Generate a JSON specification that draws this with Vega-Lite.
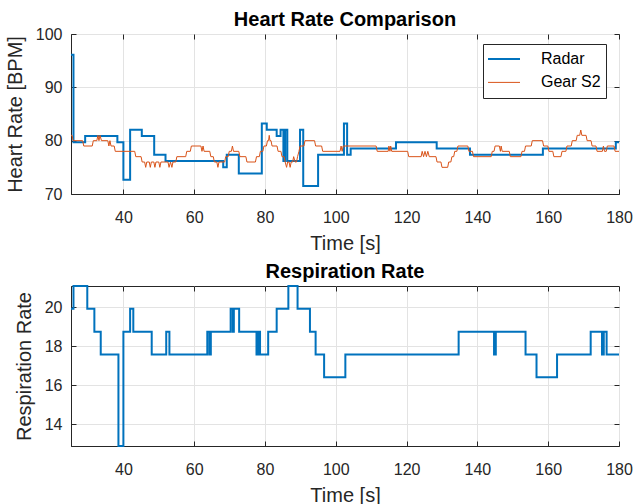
{
  "$schema": "https://vega.github.io/schema/vega-lite/v6.json",
  "padding": {"left": 4, "top": 9, "right": 5, "bottom": 5},
  "bounds": "flush",
  "spacing": 92,
  "datasets": {
    "radar_hr": [
      {"t": 25.2, "bpm": 96.09}, {"t": 25.9, "bpm": 79.69}, {"t": 29.2, "bpm": 80.86},
      {"t": 38.3, "bpm": 79.69}, {"t": 40.0, "bpm": 72.66}, {"t": 41.9, "bpm": 82.03},
      {"t": 45.2, "bpm": 80.86}, {"t": 48.7, "bpm": 77.34}, {"t": 51.9, "bpm": 76.17},
      {"t": 68.2, "bpm": 75.0}, {"t": 69.2, "bpm": 77.34}, {"t": 72.6, "bpm": 73.83},
      {"t": 79.1, "bpm": 83.2}, {"t": 80.5, "bpm": 82.03}, {"t": 83.3, "bpm": 80.86},
      {"t": 84.4, "bpm": 82.03}, {"t": 85.2, "bpm": 76.17}, {"t": 85.7, "bpm": 82.03},
      {"t": 86.3, "bpm": 76.17}, {"t": 89.9, "bpm": 82.03}, {"t": 90.8, "bpm": 71.48},
      {"t": 95.0, "bpm": 77.34}, {"t": 102.3, "bpm": 83.2}, {"t": 103.2, "bpm": 77.34},
      {"t": 104.2, "bpm": 78.52}, {"t": 117.0, "bpm": 79.69}, {"t": 128.5, "bpm": 78.52},
      {"t": 137.9, "bpm": 77.34}, {"t": 158.5, "bpm": 78.52}, {"t": 179.1, "bpm": 79.69},
      {"t": 180.0, "bpm": 79.69}
    ],
    "gear_hr": [
      {"t": 25.2, "bpm": 81}, {"t": 25.5, "bpm": 81}, {"t": 25.8, "bpm": 80}, {"t": 28.5, "bpm": 80},
      {"t": 28.8, "bpm": 79}, {"t": 31.2, "bpm": 79}, {"t": 31.5, "bpm": 80}, {"t": 32.5, "bpm": 80},
      {"t": 32.8, "bpm": 81}, {"t": 33.1, "bpm": 80}, {"t": 33.4, "bpm": 81}, {"t": 33.8, "bpm": 80},
      {"t": 35.6, "bpm": 80}, {"t": 35.9, "bpm": 79}, {"t": 36.2, "bpm": 80}, {"t": 36.5, "bpm": 79},
      {"t": 37.4, "bpm": 79}, {"t": 37.7, "bpm": 78}, {"t": 43.2, "bpm": 78}, {"t": 43.5, "bpm": 77},
      {"t": 45.0, "bpm": 77}, {"t": 45.3, "bpm": 76}, {"t": 46.0, "bpm": 76}, {"t": 46.3, "bpm": 75},
      {"t": 46.6, "bpm": 76}, {"t": 47.3, "bpm": 76}, {"t": 47.6, "bpm": 75}, {"t": 47.9, "bpm": 76},
      {"t": 48.6, "bpm": 76}, {"t": 48.9, "bpm": 75}, {"t": 49.2, "bpm": 76}, {"t": 50.0, "bpm": 76},
      {"t": 50.3, "bpm": 75}, {"t": 50.6, "bpm": 76}, {"t": 52.6, "bpm": 76}, {"t": 52.9, "bpm": 75},
      {"t": 53.3, "bpm": 76}, {"t": 53.7, "bpm": 75}, {"t": 54.0, "bpm": 76}, {"t": 54.8, "bpm": 76},
      {"t": 55.1, "bpm": 77}, {"t": 57.6, "bpm": 77}, {"t": 57.9, "bpm": 78}, {"t": 58.9, "bpm": 78},
      {"t": 59.2, "bpm": 79}, {"t": 61.9, "bpm": 79}, {"t": 62.2, "bpm": 78}, {"t": 62.5, "bpm": 79},
      {"t": 62.8, "bpm": 78}, {"t": 64.4, "bpm": 78}, {"t": 64.7, "bpm": 77}, {"t": 65.4, "bpm": 77},
      {"t": 65.7, "bpm": 76}, {"t": 66.4, "bpm": 76}, {"t": 66.7, "bpm": 75}, {"t": 67.0, "bpm": 76},
      {"t": 68.6, "bpm": 76}, {"t": 68.9, "bpm": 77}, {"t": 69.6, "bpm": 77}, {"t": 69.9, "bpm": 78},
      {"t": 70.5, "bpm": 78}, {"t": 70.8, "bpm": 79}, {"t": 71.1, "bpm": 78}, {"t": 72.6, "bpm": 78},
      {"t": 72.9, "bpm": 77}, {"t": 74.6, "bpm": 77}, {"t": 74.9, "bpm": 76}, {"t": 77.3, "bpm": 76},
      {"t": 77.6, "bpm": 77}, {"t": 78.4, "bpm": 77}, {"t": 78.7, "bpm": 78}, {"t": 79.4, "bpm": 78},
      {"t": 79.7, "bpm": 79}, {"t": 80.4, "bpm": 79}, {"t": 80.7, "bpm": 80}, {"t": 81.0, "bpm": 80},
      {"t": 81.2, "bpm": 81}, {"t": 81.4, "bpm": 80}, {"t": 81.7, "bpm": 80}, {"t": 82.0, "bpm": 79},
      {"t": 83.4, "bpm": 79}, {"t": 83.7, "bpm": 78}, {"t": 84.5, "bpm": 78}, {"t": 84.8, "bpm": 77},
      {"t": 85.4, "bpm": 77}, {"t": 85.7, "bpm": 76}, {"t": 86.1, "bpm": 75}, {"t": 86.4, "bpm": 76},
      {"t": 86.8, "bpm": 76}, {"t": 87.1, "bpm": 75}, {"t": 87.4, "bpm": 76}, {"t": 87.8, "bpm": 76},
      {"t": 88.1, "bpm": 77}, {"t": 88.5, "bpm": 76}, {"t": 88.9, "bpm": 76}, {"t": 89.2, "bpm": 77},
      {"t": 89.6, "bpm": 78}, {"t": 89.9, "bpm": 79}, {"t": 91.0, "bpm": 79}, {"t": 91.3, "bpm": 80},
      {"t": 94.0, "bpm": 80}, {"t": 94.3, "bpm": 79}, {"t": 96.0, "bpm": 79}, {"t": 96.3, "bpm": 78},
      {"t": 101.2, "bpm": 78}, {"t": 101.5, "bpm": 79}, {"t": 101.8, "bpm": 78}, {"t": 102.1, "bpm": 79},
      {"t": 111.4, "bpm": 79}, {"t": 111.7, "bpm": 78}, {"t": 114.8, "bpm": 78}, {"t": 115.0, "bpm": 79},
      {"t": 115.3, "bpm": 78}, {"t": 115.5, "bpm": 79}, {"t": 115.8, "bpm": 78}, {"t": 120.3, "bpm": 78},
      {"t": 120.6, "bpm": 77}, {"t": 124.1, "bpm": 77}, {"t": 124.4, "bpm": 78}, {"t": 124.8, "bpm": 77},
      {"t": 125.2, "bpm": 78}, {"t": 125.6, "bpm": 77}, {"t": 126.0, "bpm": 78}, {"t": 126.4, "bpm": 77},
      {"t": 128.3, "bpm": 77}, {"t": 128.6, "bpm": 76}, {"t": 129.7, "bpm": 76}, {"t": 130.0, "bpm": 75},
      {"t": 131.6, "bpm": 75}, {"t": 131.9, "bpm": 76}, {"t": 132.5, "bpm": 76}, {"t": 132.8, "bpm": 77},
      {"t": 133.3, "bpm": 77}, {"t": 133.6, "bpm": 78}, {"t": 134.2, "bpm": 78}, {"t": 134.5, "bpm": 79},
      {"t": 137.3, "bpm": 79}, {"t": 137.6, "bpm": 78}, {"t": 138.6, "bpm": 78}, {"t": 138.9, "bpm": 77},
      {"t": 143.9, "bpm": 77}, {"t": 144.2, "bpm": 78}, {"t": 144.7, "bpm": 78}, {"t": 145.0, "bpm": 79},
      {"t": 146.2, "bpm": 79}, {"t": 146.5, "bpm": 78}, {"t": 146.7, "bpm": 79}, {"t": 147.0, "bpm": 78},
      {"t": 149.0, "bpm": 78}, {"t": 149.3, "bpm": 77}, {"t": 152.3, "bpm": 77}, {"t": 152.6, "bpm": 78},
      {"t": 153.3, "bpm": 78}, {"t": 153.6, "bpm": 79}, {"t": 155.2, "bpm": 79}, {"t": 155.5, "bpm": 80},
      {"t": 158.4, "bpm": 80}, {"t": 158.7, "bpm": 79}, {"t": 159.9, "bpm": 79}, {"t": 160.2, "bpm": 78},
      {"t": 161.3, "bpm": 78}, {"t": 161.6, "bpm": 77}, {"t": 163.6, "bpm": 77}, {"t": 163.9, "bpm": 78},
      {"t": 165.0, "bpm": 78}, {"t": 165.3, "bpm": 79}, {"t": 166.5, "bpm": 79}, {"t": 166.8, "bpm": 80},
      {"t": 167.9, "bpm": 80}, {"t": 168.2, "bpm": 81}, {"t": 168.9, "bpm": 81}, {"t": 169.2, "bpm": 82},
      {"t": 169.5, "bpm": 81}, {"t": 170.7, "bpm": 81}, {"t": 171.0, "bpm": 80}, {"t": 172.1, "bpm": 80},
      {"t": 172.4, "bpm": 79}, {"t": 173.5, "bpm": 79}, {"t": 173.8, "bpm": 78}, {"t": 175.3, "bpm": 78},
      {"t": 175.6, "bpm": 79}, {"t": 175.9, "bpm": 78}, {"t": 176.4, "bpm": 78}, {"t": 176.7, "bpm": 79},
      {"t": 178.6, "bpm": 79}, {"t": 178.9, "bpm": 78}, {"t": 180.0, "bpm": 78}
    ],
    "radar_rr": [
      {"t": 25.2, "rr": 19.92}, {"t": 25.9, "rr": 21.09}, {"t": 29.8, "rr": 19.92}, {"t": 31.8, "rr": 18.75},
      {"t": 33.6, "rr": 17.58}, {"t": 38.6, "rr": 12.89}, {"t": 40.0, "rr": 18.75}, {"t": 41.9, "rr": 19.92},
      {"t": 42.8, "rr": 18.75}, {"t": 48.0, "rr": 17.58}, {"t": 52.1, "rr": 18.75}, {"t": 53.0, "rr": 17.58},
      {"t": 63.7, "rr": 18.75}, {"t": 64.3, "rr": 17.58}, {"t": 64.7, "rr": 18.75}, {"t": 70.3, "rr": 19.92},
      {"t": 70.9, "rr": 18.75}, {"t": 71.2, "rr": 19.92}, {"t": 72.7, "rr": 18.75}, {"t": 77.6, "rr": 17.58},
      {"t": 78.1, "rr": 18.75}, {"t": 78.6, "rr": 17.58}, {"t": 80.9, "rr": 18.75}, {"t": 83.3, "rr": 19.92},
      {"t": 86.6, "rr": 21.09}, {"t": 89.2, "rr": 19.92}, {"t": 92.7, "rr": 18.75}, {"t": 94.3, "rr": 17.58},
      {"t": 96.7, "rr": 16.41}, {"t": 102.7, "rr": 17.58}, {"t": 134.7, "rr": 18.75}, {"t": 144.7, "rr": 17.58},
      {"t": 145.2, "rr": 18.75}, {"t": 153.6, "rr": 17.58}, {"t": 156.7, "rr": 16.41}, {"t": 162.5, "rr": 17.58},
      {"t": 172.0, "rr": 18.75}, {"t": 175.2, "rr": 17.58}, {"t": 175.7, "rr": 18.75}, {"t": 176.5, "rr": 17.58},
      {"t": 180.0, "rr": 17.58}
    ]
  },
  "vconcat": [
    {
      "title": {"text": "Heart Rate Comparison", "offset": -4},
      "width": 548,
      "height": 160,
      "layer": [
        {
          "data": {"name": "radar_hr"},
          "mark": {"type": "line", "interpolate": "step-after", "strokeWidth": 2},
          "encoding": {
            "x": {
              "field": "t", "type": "quantitative",
              "scale": {"domain": [25.2, 180], "nice": false, "zero": false},
              "axis": {"title": "Time [s]", "values": [40, 60, 80, 100, 120, 140, 160, 180]}
            },
            "y": {
              "field": "bpm", "type": "quantitative",
              "scale": {"domain": [70, 100], "nice": false, "zero": false},
              "axis": {"title": "Heart Rate [BPM]", "values": [70, 80, 90, 100]}
            },
            "color": {
              "datum": "Radar", "type": "nominal",
              "scale": {"domain": ["Radar", "Gear S2"], "range": ["#0072BD", "#D95319"]},
              "legend": {
                "orient": "none", "legendX": 412, "legendY": 10, "title": null,
                "symbolType": "stroke", "symbolSize": 2304, "symbolStrokeWidth": 2,
                "clipHeight": 20, "rowPadding": 3.4, "padding": 5,
                "labelFontSize": 16, "labelFont": "Liberation Sans", "labelColor": "#000000",
                "labelOffset": 37, "strokeColor": "#262626", "fillColor": "#ffffff",
                "encode": {"symbols": {"update": {"strokeWidth": {"signal": "datum.value === 'Radar' ? 2 : 1"}}}}
              }
            }
          }
        },
        {
          "data": {"name": "gear_hr"},
          "mark": {"type": "line", "strokeWidth": 1},
          "encoding": {
            "x": {
              "field": "t", "type": "quantitative",
              "axis": {"orient": "top", "values": [40, 60, 80, 100, 120, 140, 160, 180], "labels": false, "labelPadding": 0, "title": null, "grid": false, "domain": false}
            },
            "y": {
              "field": "bpm", "type": "quantitative",
              "axis": {"orient": "right", "values": [70, 80, 90, 100], "labels": false, "labelPadding": 0, "title": null, "grid": false, "domain": false}
            },
            "color": {"datum": "Gear S2", "type": "nominal"}
          }
        }
      ],
      "resolve": {"axis": {"x": "independent", "y": "independent"}}
    },
    {
      "title": {"text": "Respiration Rate", "offset": 0},
      "width": 548,
      "height": 160,
      "data": {"name": "radar_rr"},
      "layer": [
        {
          "mark": {"type": "line", "interpolate": "step-after", "strokeWidth": 2, "color": "#0072BD"},
          "encoding": {
            "x": {
              "field": "t", "type": "quantitative",
              "scale": {"domain": [25.2, 180], "nice": false, "zero": false},
              "axis": {"title": "Time [s]", "values": [40, 60, 80, 100, 120, 140, 160, 180]}
            },
            "y": {
              "field": "rr", "type": "quantitative",
              "scale": {"domain": [12.89, 21.09], "nice": false, "zero": false},
              "axis": {"title": "Respiration Rate", "values": [14, 16, 18, 20]}
            }
          }
        },
        {
          "mark": {"type": "line", "interpolate": "step-after", "opacity": 0},
          "encoding": {
            "x": {
              "field": "t", "type": "quantitative",
              "axis": {"orient": "top", "values": [40, 60, 80, 100, 120, 140, 160, 180], "labels": false, "labelPadding": 0, "title": null, "grid": false, "domain": false}
            },
            "y": {
              "field": "rr", "type": "quantitative",
              "axis": {"orient": "right", "values": [14, 16, 18, 20], "labels": false, "labelPadding": 0, "title": null, "grid": false, "domain": false}
            }
          }
        }
      ],
      "resolve": {"axis": {"x": "independent", "y": "independent"}}
    }
  ],
  "config": {
    "font": "Liberation Sans",
    "background": "#ffffff",
    "view": {"stroke": "#262626", "strokeWidth": 1},
    "axis": {
      "labelFont": "Liberation Sans", "titleFont": "Liberation Sans",
      "labelFontSize": 16, "titleFontSize": 20, "titleFontWeight": "normal",
      "labelColor": "#262626", "titleColor": "#262626",
      "domainColor": "#262626", "tickColor": "#262626", "tickSize": -5,
      "gridColor": "#E3E3E3", "gridWidth": 1,
      "labelFlush": false, "labelOverlap": false
    },
    "axisX": {"labelPadding": 20, "titlePadding": 8},
    "axisY": {"labelPadding": 14, "titlePadding": 10},
    "title": {"font": "Liberation Sans", "fontSize": 20, "fontWeight": "bold", "color": "#000000", "anchor": "middle"}
  }
}
